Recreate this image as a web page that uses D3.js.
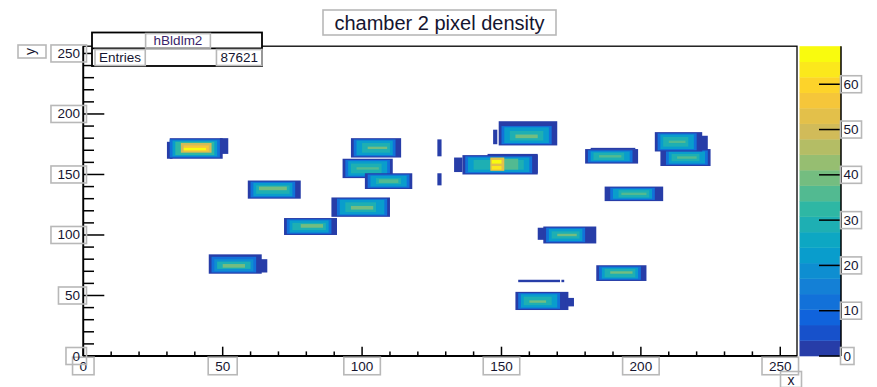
<!DOCTYPE html>
<html><head><meta charset="utf-8">
<script src="https://cdn.jsdelivr.net/npm/d3@7"></script>
<style>body{margin:0;background:#fff}svg{display:block}</style>
</head><body>
<svg id="c" width="877" height="387"></svg>
<script>
// ---------- data ----------
const title = "chamber 2 pixel density";
const histName = "hBldlm2";
const entriesLabel = "Entries";
const entriesValue = "87621";
const xTitle = "x", yTitle = "y";
const xDomain = [0, 256], yDomain = [0, 256], zDomain = [0, 68.4];
const xTicks = [0, 50, 100, 150, 200, 250];
const yTicks = [0, 50, 100, 150, 200, 250];
const zTicks = [0, 10, 20, 30, 40, 50, 60];
const nLevels = 20;

// layered cell regions of each cluster: [x0, x1, y0, y1, content]
const clusterA = [[31,50,163,180,2],[30,32,163,177,2],[49,52,167,180,3],[31,49,164,179,13],[32,48,165,178,22],[33,47,166,177,32],[35,46,168,176,48],[36,45,169,174,58],[36,44,170,172,66]];
const clusterB = [[59,78,130,145,2],[60,76,131,144,13],[61,75,132,143,22],[62,74,134,141,30],[63,73,137,140,40]];
const clusterC = [[72,91,100,114,2],[73,89,101,113,13],[74,88,102,112,22],[75,87,104,110,30],[78,86,106,109,38]];
const clusterD = [[45,64,68,84,2],[63,66,69,80,3],[46,62,69,82,13],[47,61,70,80,20],[48,60,72,78,28],[50,58,73,76,38]];
const clusterE = [[96,114,164,180,2],[97,112,165,179,13],[98,111,166,178,22],[100,110,168,176,30],[102,109,171,173,38]];
const clusterF = [[93,111,147,163,2],[94,110,148,162,13],[95,109,149,161,22],[96,107,151,159,28],[98,106,154,156,36]];
const clusterG = [[101,118,138,151,2],[102,117,139,150,13],[103,116,140,149,22],[105,114,142,147,30],[106,113,143,146,36]];
const clusterH = [[89,110,115,131,2],[91,109,116,130,13],[92,108,117,129,22],[94,105,119,127,30],[96,104,121,124,38]];
const stripes = [[127,128.5,165,179,2],[127,128.5,141,151,2]];
const clusterI = [[147,148.5,175,187,2],[149,170,174,194,2],[150,168,175,190,13],[151,167,176,189,22],[153,165,178,186,28],[155,163,180,183,38]];
const clusterJ = [[133,136,152,164,2],[136,163,150,166,2],[145,163,151,167,2],[137,161,151,165,13],[138,160,152,164,22],[140,158,154,162,28],[146,156,154,163,36],[146,151,153,164,52],[146.5,150,159,162,66],[146.5,150,154,157,64]];
const clusterK = [[180,199,159,171,2],[182,198,171,172,2],[181,197,160,170,13],[182,196,161,169,22],[183,194,162,168,28],[185,193,164,166,36]];
const clusterM = [[207,225,157,171,2],[209,224,158,170,13],[210,223,159,169,22],[211,221,161,167,28],[213,220,163,165,36]];
const clusterL = [[205,222,169,185,2],[221,224,170,182,3],[206,220,170,184,13],[207,219,171,183,22],[208,217,173,181,28],[210,216,176,178,36]];
const clusterN = [[187,208,128,140,2],[189,205,129,139,13],[190,204,130,138,22],[192,203,131,137,28],[193,202,133,135,36]];
const clusterO = [[163,165.5,96,106,2],[165,184,93,107,2],[166,180,94,106,13],[167,179,95,105,22],[168,178,97,103,28],[170,177,99,101,38]];
const clusterP = [[184,202,62,75,2],[185,200,63,74,13],[186,199,64,73,22],[187,198,65,72,28],[189,197,68,70,38]];
const trackQ = [[156,171,61,63,2],[171.5,172.5,61,63,2]];
const clusterR = [[155,174,38,53,2],[173,176,41,48,3],[156,171,39,52,13],[157,170,40,51,22],[158,168,42,49,28],[160,166,44,46,38]];

const cells = [].concat(clusterA, clusterB, clusterC, clusterD, clusterE, clusterF, clusterG, clusterH,
  stripes, clusterI, clusterJ, clusterK, clusterM, clusterL, clusterN, clusterO, clusterP, trackQ, clusterR);

// ROOT "bird" palette stops
const birdStops = [0, 0.125, 0.25, 0.375, 0.5, 0.625, 0.75, 0.875, 1];
const birdR = [0.2082, 0.0592, 0.0780, 0.0232, 0.1802, 0.5301, 0.8186, 0.9956, 0.9764];
const birdG = [0.1664, 0.3599, 0.5041, 0.6419, 0.7178, 0.7492, 0.7328, 0.7862, 0.9832];
const birdB = [0.5293, 0.8684, 0.8385, 0.7914, 0.6425, 0.4662, 0.3499, 0.1968, 0.0539];

// ---------- layout ----------
const frame = {l: 83.3, r: 797, t: 46.2, b: 356};
const cbar = {l: 799.5, r: 841, t: 46.2, b: 356};

const svg = d3.select("#c");
const x = d3.scaleLinear().domain(xDomain).range([frame.l, frame.r]);
const y = d3.scaleLinear().domain(yDomain).range([frame.b, frame.t]);
const z = d3.scaleLinear().domain(zDomain).range([cbar.b, cbar.t]);

const rS = d3.scaleLinear().domain(birdStops).range(birdR);
const gS = d3.scaleLinear().domain(birdStops).range(birdG);
const bS = d3.scaleLinear().domain(birdStops).range(birdB);
function levelColor(i) {
  const idx = Math.floor((i + 0.99) * 255 / nLevels);
  const f = Math.min(1, idx / 254);
  return d3.rgb(rS(f) * 255, gS(f) * 255, bS(f) * 255).toString();
}
const dz = (zDomain[1] - zDomain[0]) / nLevels;
function valColor(v) {
  const i = Math.max(0, Math.min(nLevels - 1, Math.floor((v - zDomain[0]) / dz)));
  return levelColor(i);
}

const font = "'Liberation Sans', Arial, Helvetica, sans-serif";
const textCol = "#151530";
const boxCol = "#b8b8b8";

// ---------- cells ----------
svg.append("g").selectAll("rect").data(cells).join("rect")
  .attr("x", d => x(d[0])).attr("width", d => x(d[1]) - x(d[0]))
  .attr("y", d => y(d[3])).attr("height", d => y(d[2]) - y(d[3]))
  .attr("fill", d => valColor(d[4]));

// ---------- colour bar ----------
const levels = d3.range(nLevels);
svg.append("g").selectAll("rect").data(levels).join("rect")
  .attr("x", cbar.l).attr("width", cbar.r - cbar.l)
  .attr("y", i => z(zDomain[0] + (i + 1) * dz)).attr("height", i => z(zDomain[0] + i * dz) - z(zDomain[0] + (i + 1) * dz) + 0.3)
  .attr("fill", i => levelColor(i));

// ---------- frame & axes ----------
const ax = svg.append("g").attr("stroke", "#000").attr("fill", "none");
ax.append("rect").attr("x", frame.l).attr("y", frame.t).attr("width", frame.r - frame.l).attr("height", frame.b - frame.t).attr("stroke-width", 1.3);
ax.append("line").attr("x1", frame.l).attr("x2", frame.r).attr("y1", frame.b).attr("y2", frame.b).attr("stroke-width", 1.8);
ax.append("line").attr("x1", frame.l).attr("x2", frame.l).attr("y1", frame.t).attr("y2", frame.b).attr("stroke-width", 1.8);

const xMinor = d3.range(0, 257, 10);
const yMinor = d3.range(0, 257, 10);
ax.selectAll(".xt").data(xMinor).join("line")
  .attr("x1", d => x(d)).attr("x2", d => x(d))
  .attr("y1", frame.b).attr("y2", d => frame.b - (d % 50 === 0 ? 9.3 : 4.6)).attr("stroke-width", 1.5);
ax.selectAll(".yt").data(yMinor).join("line")
  .attr("y1", d => y(d)).attr("y2", d => y(d))
  .attr("x1", frame.l).attr("x2", d => frame.l + (d % 50 === 0 ? 21 : 10.7)).attr("stroke-width", 1.5);
// colour bar axis
ax.append("line").attr("x1", cbar.r).attr("x2", cbar.r).attr("y1", cbar.t).attr("y2", cbar.b).attr("stroke-width", 1.5);
ax.selectAll(".zt").data(zTicks).join("line")
  .attr("y1", d => z(d)).attr("y2", d => z(d))
  .attr("x1", cbar.r).attr("x2", cbar.r - 22).attr("stroke-width", 1.5);

// ---------- labels with boxes ----------
function boxedText(g, str, tx, ty, anchor, size, padX, boxH, opts = {}) {
  const t = g.append("text").attr("x", tx).attr("y", ty).attr("text-anchor", anchor)
    .attr("dominant-baseline", "central").attr("font-family", font).attr("font-size", size)
    .attr("fill", opts.fill || textCol).text(str);
  const bb = t.node().getBBox();
  g.insert("rect", "text").attr("x", bb.x - padX).attr("y", ty - boxH / 2)
    .attr("width", bb.width + 2 * padX).attr("height", boxH)
    .attr("fill", opts.bg || "none").attr("stroke", boxCol).attr("stroke-width", 1.6);
  return t;
}

const labels = svg.append("g");
xTicks.forEach(v => boxedText(labels.append("g"), String(v), x(v), 366, "middle", 13.5, 7, 17.5));
yTicks.forEach(v => boxedText(labels.append("g"), String(v), 80, y(v), "end", 13.5, 6.5, 17));
zTicks.forEach(v => boxedText(labels.append("g"), String(v), 843.5, z(v), "start", 13.5, 3, 17));

// axis titles
boxedText(labels.append("g"), xTitle, 791, 379.5, "middle", 14, 7, 16);
const yt = labels.append("g");
yt.append("rect").attr("x", 18).attr("y", 45).attr("width", 28).attr("height", 13)
  .attr("fill", "none").attr("stroke", boxCol).attr("stroke-width", 1.6);
yt.append("text").attr("transform", "translate(30,51.5) rotate(-90)")
  .attr("text-anchor", "middle").attr("dominant-baseline", "central")
  .attr("font-family", font).attr("font-size", 14).attr("fill", textCol).text(yTitle);

// ---------- title ----------
const tg = svg.append("g");
tg.append("rect").attr("x", 323).attr("y", 10).attr("width", 233).attr("height", 25)
  .attr("fill", "#fff").attr("stroke", boxCol).attr("stroke-width", 1.6);
tg.append("text").attr("x", 439.5).attr("y", 22.5).attr("text-anchor", "middle")
  .attr("dominant-baseline", "central").attr("font-family", font).attr("font-size", 20)
  .attr("fill", textCol).text(title);

// ---------- stats box ----------
const sg = svg.append("g");
sg.append("rect").attr("x", 92).attr("y", 32.5).attr("width", 170).attr("height", 33.5)
  .attr("fill", "#fff").attr("stroke", "#000").attr("stroke-width", 1.8);
sg.append("line").attr("x1", 92).attr("x2", 262).attr("y1", 48.3).attr("y2", 48.3)
  .attr("stroke", "#000").attr("stroke-width", 1.8);
boxedText(sg.append("g"), histName, 178, 40.8, "middle", 13.5, 8, 14.5, {fill: "#3a1f6a"});
boxedText(sg.append("g"), entriesLabel, 99, 57.5, "start", 13.5, 4, 16);
boxedText(sg.append("g"), entriesValue, 258, 57.5, "end", 13.5, 4, 16);
</script>
</body></html>
